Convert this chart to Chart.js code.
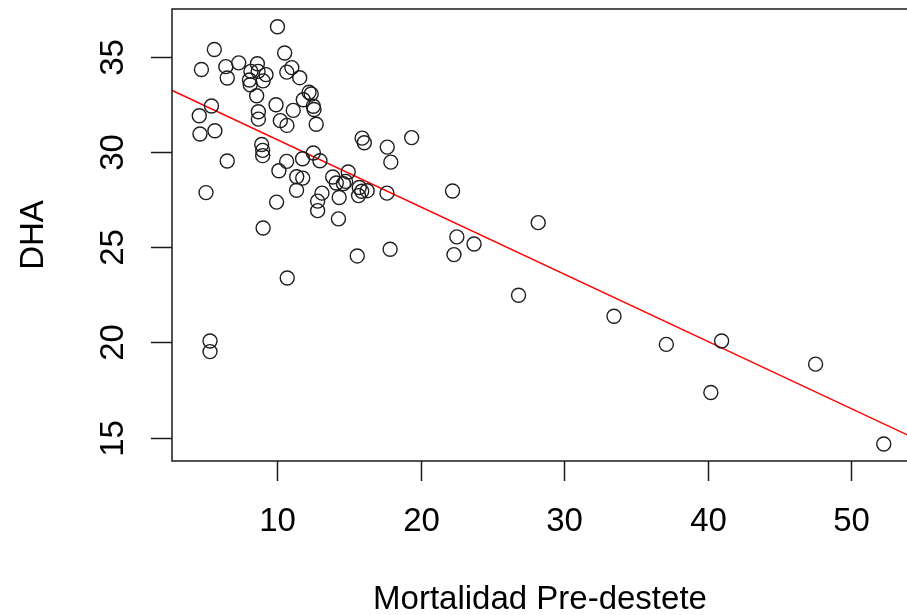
<!DOCTYPE html>
<html>
<head>
<meta charset="utf-8">
<script src="https://cdn.jsdelivr.net/npm/chart.js@4.4.0/dist/chart.umd.min.js"></script>
<style>
html,body{margin:0;padding:0;background:#fff;overflow:hidden;}
#wrap{width:907px;height:615px;position:relative;}
</style>
</head>
<body>
<div id="wrap"><canvas id="c" width="907" height="615"></canvas></div>
<script>
// Mortalidad Pre-destete (x) and DHA (y)
const mortalidad = [4.7,5.6,6.4,7.3,6.5,8.6,8.15,8.65,9.2,8.05,9.0,8.1,10.0,10.5,11.0,10.65,11.55,8.55,9.9,11.1,
  12.2,12.35,11.8,12.5,12.55,12.7,5.4,4.55,8.67,8.67,10.2,10.66,4.6,5.64,15.9,16.05,17.65,19.35,8.9,8.97,
  8.97,12.5,6.5,10.64,11.75,12.96,17.9,10.1,11.34,11.76,11.33,5.02,9.94,13.85,14.93,14.1,14.75,14.6,15.7,16.25,
  15.65,15.87,14.3,17.63,13.1,12.8,12.8,14.25,9.0,15.56,10.68,5.3,5.3,22.2,28.17,22.5,23.7,22.3,17.85,26.8,
  33.45,37.1,40.95,40.2,47.5,52.25];
const dha = [34.35,35.4,34.5,34.7,33.9,34.65,34.25,34.25,34.08,33.8,33.75,33.55,36.6,35.22,34.45,34.21,33.92,32.97,32.5,32.2,
  33.15,33.06,32.76,32.42,32.25,31.47,32.43,31.92,32.13,31.74,31.66,31.41,30.96,31.13,30.74,30.5,30.27,30.77,30.41,30.1,
  29.82,29.96,29.54,29.52,29.66,29.55,29.48,29.03,28.71,28.64,28.0,27.88,27.38,28.7,28.96,28.38,28.47,28.35,28.15,27.98,
  27.72,27.95,27.62,27.85,27.85,27.43,26.93,26.5,26.02,24.55,23.39,20.08,19.52,27.96,26.3,25.55,25.18,24.62,24.9,22.48,
  21.38,19.9,20.08,17.37,18.86,14.66];
// fitted regression line, two end points
const fitX = [2.6, 53.9];
const fitY = [33.27, 15.14];
const xTicks = [10, 20, 30, 40, 50];
const yTicks = [15, 20, 25, 30, 35];
const xTitle = 'Mortalidad Pre-destete';
const yTitle = 'DHA';

const FONT = '33px "Liberation Sans", Arial, sans-serif';

const rAxes = {
  id: 'rAxes',
  afterDraw(chart) {
    const ctx = chart.ctx, a = chart.chartArea;
    const xs = chart.scales.x, ys = chart.scales.y;
    ctx.save();
    ctx.strokeStyle = '#1a1a1a';
    ctx.lineWidth = 1.5;
    // box (right side falls outside the canvas)
    ctx.beginPath();
    ctx.moveTo(a.right + 5, a.top); ctx.lineTo(a.left, a.top);
    ctx.lineTo(a.left, a.bottom); ctx.lineTo(a.right + 5, a.bottom);
    ctx.stroke();
    ctx.fillStyle = '#000';
    ctx.font = FONT;
    // x ticks
    ctx.textAlign = 'center'; ctx.textBaseline = 'middle';
    xTicks.forEach(v => {
      const px = Math.round(xs.getPixelForValue(v)) + 0.5;
      ctx.beginPath(); ctx.moveTo(px, a.bottom); ctx.lineTo(px, a.bottom + 20); ctx.stroke();
      ctx.fillText(String(v), px, 522);
    });
    ctx.fillText(xTitle, 540, 600);
    // y ticks
    yTicks.forEach(v => {
      const py = Math.round(ys.getPixelForValue(v)) + 0.5;
      ctx.beginPath(); ctx.moveTo(a.left, py); ctx.lineTo(a.left - 21, py); ctx.stroke();
      ctx.save(); ctx.translate(114, py); ctx.rotate(-Math.PI / 2);
      ctx.fillText(String(v), 0, 0); ctx.restore();
    });
    ctx.save(); ctx.translate(34, (a.top + a.bottom) / 2); ctx.rotate(-Math.PI / 2);
    ctx.fillText(yTitle, 0, 0); ctx.restore();
    ctx.restore();
  }
};

const points = mortalidad.map((x, i) => ({x: x, y: dha[i]}));
const fit = fitX.map((x, i) => ({x: x, y: fitY[i]}));

new Chart(document.getElementById('c'), {
  type: 'scatter',
  data: {
    datasets: [
      {data: points, pointStyle: 'circle', pointRadius: 7, pointHoverRadius: 7,
       pointBorderWidth: 1.4, pointBackgroundColor: 'rgba(0,0,0,0)', pointBorderColor: '#1e1e1e', showLine: false},
      {data: fit, showLine: true, borderColor: '#ff0000', borderWidth: 1.5, pointRadius: 0, fill: false}
    ]
  },
  options: {
    responsive: false,
    animation: false,
    events: [],
    layout: {autoPadding: false, padding: {left: 172, right: 0, top: 9, bottom: 154}},
    plugins: {legend: {display: false}, tooltip: {enabled: false}},
    scales: {
      x: {type: 'linear', display: false, min: 2.65, max: 53.87},
      y: {type: 'linear', display: false, min: 13.77, max: 37.53}
    }
  },
  plugins: [rAxes]
});
</script>
</body>
</html>
